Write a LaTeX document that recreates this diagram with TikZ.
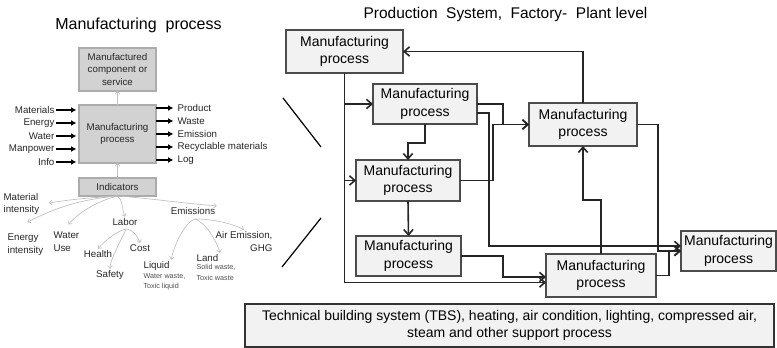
\documentclass[tikz,border=0pt]{standalone}
\usepackage{fontspec}
\setmainfont{Liberation Sans}
\usetikzlibrary{arrows.meta,calc}

\tikzset{
    proc/.style={draw=black!70, fill=gray!10, line width=0.8pt, inner sep=0pt, outer sep=0pt,
        align=center, font=\fontsize{10.5}{13}\selectfont},
    dims/.style args={#1/#2}{minimum width=#1*0.75pt, minimum height=#2*0.75pt},
    lbox/.style={draw=gray!65, fill=gray!35, line width=0.8pt, inner sep=0pt, outer sep=0pt,
        align=center, text=black!85, font=\fontsize{7.3}{9.7}\selectfont},
    lbl/.style={inner sep=1pt, text=black!85, align=left, font=\fontsize{7.3}{9.7}\selectfont},
    note/.style={inner sep=1pt, text=black!70, align=left, font=\fontsize{5.4}{7.6}\selectfont},
    flow/.style={draw=black!85, line width=1.2pt, -{Straight Barb[length=4pt,width=7pt]}},
    io/.style={line width=1pt, -{Latex[length=4pt,width=4.5pt]}, shorten >=2pt},
    tree/.style={draw=gray!50, line width=0.5pt, -{Straight Barb[length=2pt,width=3.5pt]}},
}

\begin{document}
\begin{tikzpicture}[x=0.75pt,y=-0.75pt]
    \useasboundingbox (0,0) rectangle (777,348);

    % titles
    \node (ttlA) at (138.5,25) {\fontsize{12}{14}\selectfont Manufacturing\ \ process};
    \node (ttlB) at (505.5,15) {\fontsize{11.6}{14}\selectfont Production\ \ System,\ \ Factory-\ \ Plant level};

    % single manufacturing process
    \node[lbox, dims=77/43] (mcs) at (117.5,69.5) {Manufactured\\component or\\service};
    \node[lbox, dims=77/58] (mp) at (117.5,134) {Manufacturing\\process};
    \node[lbox, dims=77/18] (ind) at (117.5,187) {Indicators};
    \draw[tree] (mp) -- (mcs);
    \draw[tree] (ind) -- (mp);

    \foreach \t [count=\i] in {Materials,Energy,Water,Manpower,Info} {
        \node[lbl, anchor=east] (in\i) at (56,97+13*\i) {\t};
        \draw[io] (in\i.east) -- (mp.west |- in\i.east);
    }
    \foreach \t [count=\i] in {Product,Waste,Emission,Recyclable materials,Log} {
        \node[lbl, anchor=west] (out\i) at (176,95+13*\i) {\t};
        \draw[io] (mp.east |- out\i.west) -- (out\i.west);
    }

    % indicator tree
    \node[lbl, anchor=west] (mi) at (2,204) {Material\\intensity};
    \node[lbl, anchor=west] (ei) at (6,244.5) {Energy\\intensity};
    \node[lbl, anchor=west] (wu) at (52,242) {Water\\Use};
    \node[lbl] (lab) at (125,222) {Labor};
    \node[lbl] (emi) at (193,211) {Emissions};
    \node[lbl] (hea) at (98,254) {Health};
    \node[lbl] (saf) at (110,275) {Safety};
    \node[lbl] (cost) at (140,248) {Cost};
    \node[lbl, anchor=west] (liq) at (142,266) {Liquid};
    \node[note, anchor=north west] (liqN) at (liq.south west) {Water waste,\\Toxic liquid};
    \node[lbl, anchor=west] (land) at (195,258) {Land};
    \node[note, anchor=north west] (landN) at (land.south west) {Solid waste,\\Toxic waste};
    \node[lbl, align=right] (air) at (244,241.5) {Air Emission,\\GHG};

    \coordinate (labR) at (126,229);
    \coordinate (emiR) at (195,219);
    \draw[tree] (ind.south) .. controls +(-30,2) and +(25,-4) .. ($(mi.east)+(8,-1)$);
    \draw[tree] (ind.south) .. controls +(-45,4) and +(20,-10) .. ($(ei.north)+(2,-10)$);
    \draw[tree] (ind.south) .. controls +(-20,5) and +(10,-12) .. ($(wu.north)+(2,-6)$);
    \draw[tree] (ind.south) .. controls +(5,3) and +(-3,-8) .. (lab.north);
    \draw[tree] (ind.south) .. controls +(30,2) and +(-30,-2) .. (emi.north east);
    \draw[tree] (labR) .. controls +(-10,2) and +(5,-6) .. (hea.north);
    \draw[tree] (labR) .. controls +(-3,8) and +(0,-10) .. (saf.north);
    \draw[tree] (labR) .. controls +(8,1) and +(-2,-6) .. (cost.north);
    \draw[tree] (emiR) .. controls +(-10,3) and +(3,-15) .. (liq.north east);
    \draw[tree] (emiR) .. controls +(10,3) and +(-3,-12) .. (land.north east);
    \draw[tree] (emiR) .. controls +(25,0) and +(-5,-3) .. (air.north);

    % zoom lines
    \draw[line width=0.9pt] (283,98) -- (321,147);
    \draw[line width=0.9pt] (321,218) -- (282,267);

    % production system
    \node[proc, dims=117/43] (P1) at (344.5,51.5) {Manufacturing\\process};
    \node[proc, dims=104/40] (P2) at (425,104) {Manufacturing\\process};
    \node[proc, dims=104/41] (P3) at (408,180.5) {Manufacturing\\process};
    \node[proc, dims=105/40] (P4) at (408.5,256) {Manufacturing\\process};
    \node[proc, dims=108/43] (P5) at (583,124.5) {Manufacturing\\process};
    \node[proc, dims=110/43] (P6) at (601,275.5) {Manufacturing\\process};
    \node[proc, dims=95/40] (P7) at (728.5,251) {Manufacturing\\process};
    \node[proc, dims=529/43, draw=black!80, line width=1.3pt] (tbs) at (509.5,325.5)
        {Technical building system (TBS), heating, air condition, lighting, compressed air,\\steam and other support process};

    \draw[flow] (P1.south) |- ($(P6.west)+(0,7)$);
    \draw[flow] (P1.south |- P2.west) -- (P2.west);
    \draw[flow] (P1.south |- P3.west) -- (P3.west);
    \draw[flow] (P2.south) -- ++(0,19) -| (P3.north);
    \draw[flow] (P3.south) -- (P4.north);
    \draw[flow] (P2.east) -- ++(26,0) |- (P5.west);
    \draw[flow] ($(P2.east)+(0,9)$) -- ++(12,0) |- ($(P7.west)+(0,-5)$);
    \draw[flow] (P3.east) -- ++(33,0) |- (P5.west);
    \draw[flow] (P4.east) -- ++(42,0) |- ($(P6.west)+(0,1.5)$);
    \draw[flow] (P5.north) |- (P1.east);
    \draw[flow] (P5.east) -- ++(21,0) |- (P7.west);
    \draw[flow] (P6.east) -- ++(13,0) |- (P7.west);
    \draw[flow] (P6.north) -- ++(0,-54) -| (P5.south);
\end{tikzpicture}
\end{document}
